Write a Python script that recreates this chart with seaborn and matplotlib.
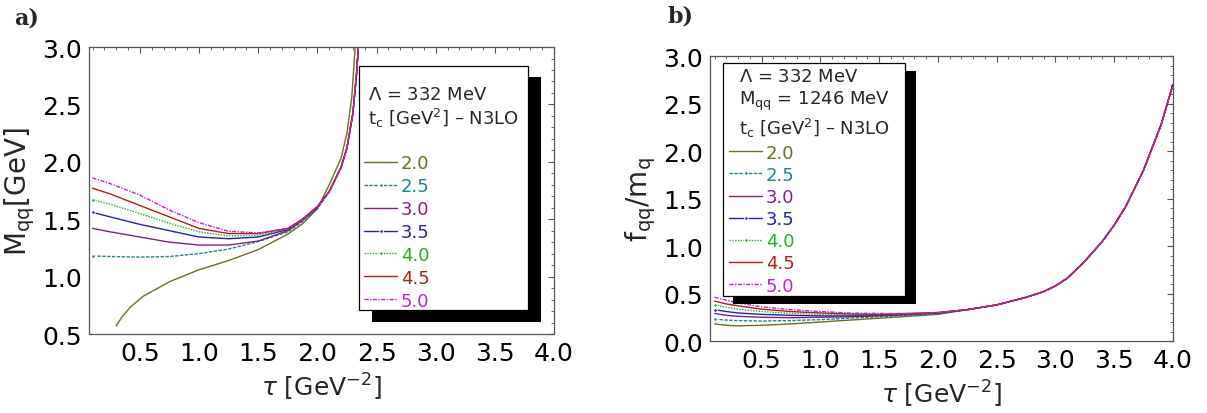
import numpy as np
import pandas as pd
import matplotlib
matplotlib.use("Agg")
import matplotlib.pyplot as plt
from matplotlib.patches import Rectangle
from matplotlib.ticker import MultipleLocator
import seaborn as sns

# continuum thresholds t_c [GeV^2]
tc_labels = ["2.0", "2.5", "3.0", "3.5", "4.0", "4.5", "5.0"]
colors = ["#6e6e1c", "#1f8585", "#842084", "#2323b0", "#22b022", "#b01e1e", "#c424c4"]
styles = ["-", (0, (2.5, 1.0)), "-", "-", (0, (1.0, 1.0)), "-", (0, (3.0, 1.0, 1.0, 1.0))]
markers = [None, "o", None, "o", "o", None, None]

# ---- panel a): M_qq [GeV] vs tau [GeV^-2]
tau_a_20 = [0.30, 0.35, 0.42, 0.53, 0.75, 1.0, 1.25, 1.5, 1.75, 1.875, 2.0, 2.1, 2.2, 2.25, 2.29, 2.32, 2.34]
mqq_20 = [0.57, 0.65, 0.735, 0.83, 0.955, 1.06, 1.14, 1.235, 1.37, 1.46, 1.59, 1.80, 2.03, 2.25, 2.55, 3.0, 3.3]
tau_a = [0.1, 0.25, 0.5, 0.75, 1.0, 1.25, 1.5, 1.75, 1.875, 2.0, 2.1, 2.2, 2.25, 2.3, 2.33, 2.35, 2.37]
mqq_25 = [1.18, 1.175, 1.17, 1.175, 1.20, 1.24, 1.305, 1.39, 1.48, 1.59, 1.74, 1.95, 2.12, 2.42, 2.75, 3.05, 3.4]
mqq_30 = [1.42, 1.39, 1.345, 1.30, 1.275, 1.275, 1.31, 1.40, 1.49, 1.60, 1.74, 1.95, 2.12, 2.42, 2.75, 3.05, 3.4]
mqq_35 = [1.56, 1.52, 1.455, 1.40, 1.345, 1.33, 1.345, 1.41, 1.50, 1.61, 1.74, 1.95, 2.12, 2.42, 2.75, 3.05, 3.4]
mqq_40 = [1.67, 1.63, 1.55, 1.465, 1.39, 1.355, 1.36, 1.415, 1.50, 1.61, 1.74, 1.95, 2.12, 2.42, 2.75, 3.05, 3.4]
mqq_45 = [1.77, 1.72, 1.62, 1.52, 1.42, 1.375, 1.375, 1.42, 1.50, 1.61, 1.74, 1.95, 2.12, 2.42, 2.75, 3.05, 3.4]
mqq_50 = [1.86, 1.81, 1.71, 1.58, 1.47, 1.395, 1.38, 1.42, 1.50, 1.61, 1.74, 1.95, 2.12, 2.42, 2.75, 3.05, 3.4]

# ---- panel b): f_qq/m_q vs tau [GeV^-2]
tau_b = [0.1, 0.2, 0.3, 0.5, 0.75, 1.0, 1.25, 1.5, 1.75, 2.0,
         2.25, 2.5, 2.75, 2.9, 3.0, 3.1, 3.25, 3.4, 3.5, 3.6, 3.75, 3.9, 4.0]
fq_tail = [0.33, 0.38, 0.46, 0.52, 0.58, 0.66, 0.84, 1.05, 1.22, 1.42, 1.80, 2.28, 2.70]
fq_20 = [0.18, 0.165, 0.16, 0.165, 0.18, 0.20, 0.22, 0.24, 0.26, 0.28] + fq_tail
fq_25 = [0.23, 0.22, 0.215, 0.21, 0.215, 0.225, 0.24, 0.255, 0.27, 0.29] + fq_tail
fq_30 = [0.29, 0.27, 0.26, 0.25, 0.245, 0.25, 0.255, 0.265, 0.28, 0.295] + fq_tail
fq_35 = [0.33, 0.31, 0.295, 0.28, 0.27, 0.265, 0.265, 0.27, 0.28, 0.295] + fq_tail
fq_40 = [0.38, 0.355, 0.335, 0.31, 0.29, 0.28, 0.275, 0.275, 0.285, 0.30] + fq_tail
fq_45 = [0.42, 0.39, 0.37, 0.335, 0.31, 0.295, 0.285, 0.28, 0.29, 0.30] + fq_tail
fq_50 = [0.46, 0.43, 0.40, 0.36, 0.33, 0.31, 0.295, 0.29, 0.29, 0.30] + fq_tail

series_a = [(tau_a_20, mqq_20), (tau_a, mqq_25), (tau_a, mqq_30), (tau_a, mqq_35),
            (tau_a, mqq_40), (tau_a, mqq_45), (tau_a, mqq_50)]
series_b = [(tau_b, f) for f in (fq_20, fq_25, fq_30, fq_35, fq_40, fq_45, fq_50)]

sns.set_style("white")
plt.rcParams["font.family"] = ["DejaVu Sans"]
plt.rcParams["mathtext.fontset"] = "dejavusans"

fig = plt.figure(figsize=(12.07, 4.14), dpi=100)
ax_a = fig.add_axes([0.0737, 0.1908, 0.3853, 0.6932])
ax_b = fig.add_axes([0.5882, 0.1739, 0.3836, 0.6884])


def draw_curves(ax, series):
    for (x, y), lab, c, ls, mk in zip(series, tc_labels, colors, styles, markers):
        df = pd.DataFrame({"tau": x, "val": y})
        kw = dict(marker=mk, markevery=[0], markersize=2.6) if mk else {}
        sns.lineplot(data=df, x="tau", y="val", ax=ax, color=c, linestyle=ls,
                     linewidth=1.0, label=lab, sort=True, **kw)


def style_axes(ax, ylim, ylabel):
    ax.set_xlim(0.07, 4.0)
    ax.set_ylim(*ylim)
    ax.xaxis.set_minor_locator(MultipleLocator(0.1))
    ax.yaxis.set_major_locator(MultipleLocator(0.5))
    ax.yaxis.set_minor_locator(MultipleLocator(0.1))
    ax.set_xticks([0.5, 1.0, 1.5, 2.0, 2.5, 3.0, 3.5, 4.0])
    ax.set_xticklabels(["0.5", "1.0", "1.5", "2.0", "2.5", "3.0", "3.5", "4.0"])
    ax.tick_params(which="both", direction="in", top=True, right=True,
                   color="#555555", labelsize=18, labelcolor="black")
    ax.tick_params(which="major", length=4, width=0.8, pad=5)
    ax.tick_params(which="minor", length=2, width=0.6)
    for sp in ax.spines.values():
        sp.set_color("#555555")
        sp.set_linewidth(0.9)
    ax.set_xlabel(r"$\tau$ [GeV$^{-2}$]", fontsize=18, labelpad=4)
    ax.set_ylabel(ylabel, fontsize=20, labelpad=4)


draw_curves(ax_a, series_a)
draw_curves(ax_b, series_b)
style_axes(ax_a, (0.5, 3.0), r"M$_{\rm qq}$[GeV]")
style_axes(ax_b, (0.0, 3.0), r"f$_{\rm qq}$/m$_{\rm q}$")
ax_b.set_xlim(0.06, 4.0)


def add_legend(ax, title, anchor, box, shadow, title_ls, spacing):
    """Legend without its own frame, laid over a white box with a black drop shadow."""
    handles = ax.get_lines()[:7]
    leg = ax.legend(handles, tc_labels, title=title, loc="upper left",
                    bbox_to_anchor=anchor, mode="expand", borderaxespad=0,
                    frameon=False, fontsize=13, title_fontsize=13,
                    labelcolor="linecolor", handlelength=1.85,
                    handletextpad=0.2, labelspacing=spacing, borderpad=0,
                    numpoints=1)
    leg.set_zorder(5)
    leg.get_title().set_linespacing(title_ls)
    (sx0, sy0, sx1, sy1) = shadow
    ax.add_patch(Rectangle((sx0, sy0), sx1 - sx0, sy1 - sy0, transform=ax.transAxes,
                           facecolor="black", edgecolor="none", zorder=4.5, clip_on=False))
    (bx0, by0, bx1, by1) = box
    ax.add_patch(Rectangle((bx0, by0), bx1 - bx0, by1 - by0, transform=ax.transAxes,
                           facecolor="white", edgecolor="black", linewidth=0.9,
                           zorder=4.6, clip_on=False))
    return leg


add_legend(ax_a, r"$\Lambda$ = 332 MeV" + "\n" + r"t$_{\rm c}$ [GeV$^2$] – N3LO" + "\n ",
           anchor=(0.591, 0.0, 0.344, 0.866),
           box=(0.581, 0.084, 0.944, 0.934),
           shadow=(0.609, 0.042, 0.972, 0.895),
           title_ls=1.15, spacing=0.27)
add_legend(ax_b, r"$\Lambda$ = 332 MeV" + "\n" + r"M$_{\rm qq}$ = 1246 MeV" + "\n"
           + r"t$_{\rm c}$ [GeV$^2$] – N3LO",
           anchor=(0.041, 0.0, 0.369, 0.962),
           box=(0.028, 0.158, 0.421, 0.975),
           shadow=(0.050, 0.130, 0.445, 0.947),
           title_ls=1.25, spacing=0.23)

fig.text(0.012, 0.940, "a)", fontsize=16, fontweight="bold", family="DejaVu Serif")
fig.text(0.553, 0.945, "b)", fontsize=16, fontweight="bold", family="DejaVu Serif")

fig.savefig("out.png", dpi=100)
